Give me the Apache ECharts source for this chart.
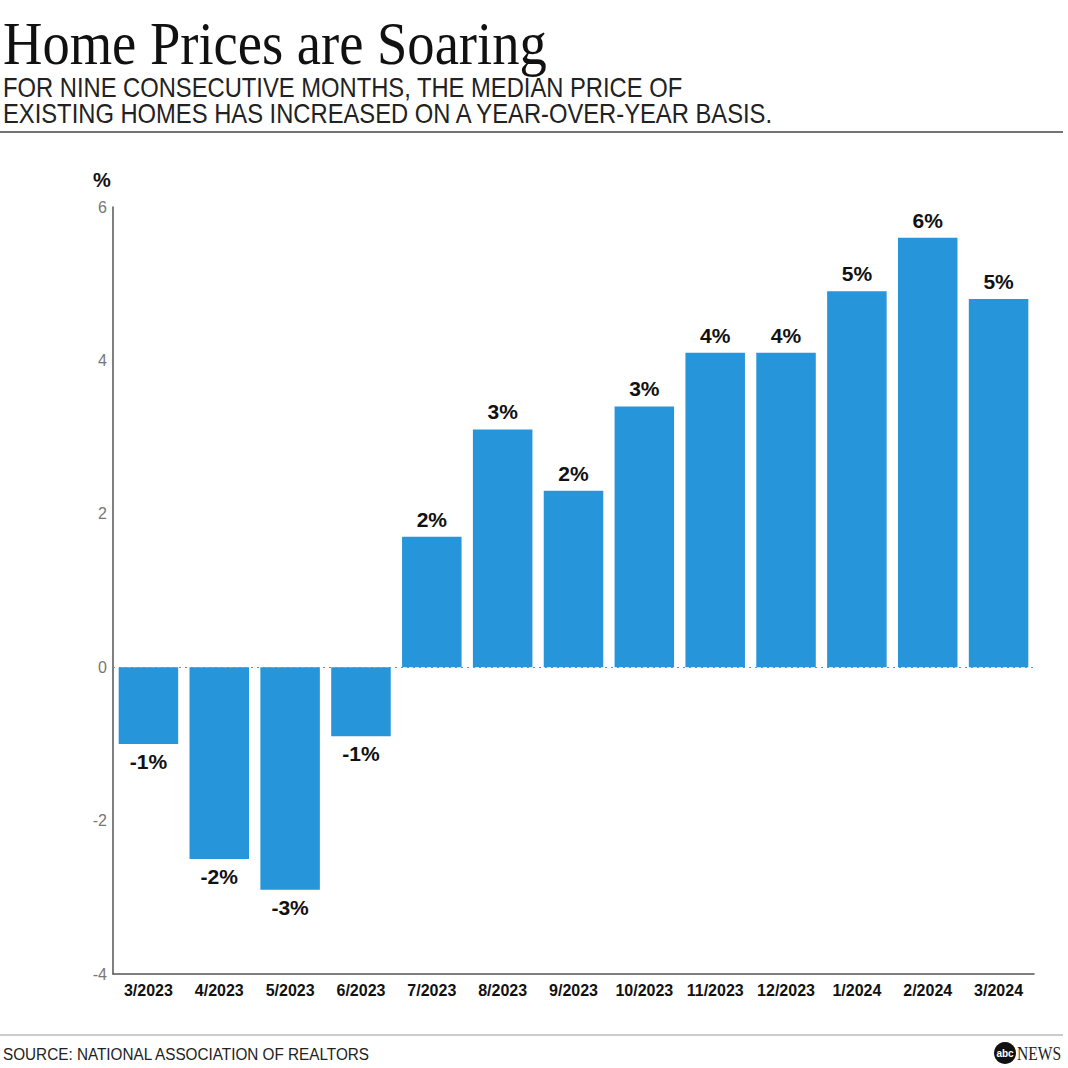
<!DOCTYPE html>
<html><head><meta charset="utf-8">
<script src="https://cdn.jsdelivr.net/npm/echarts@6/dist/echarts.min.js"></script>
<style>html,body{margin:0;padding:0;background:#fff}#c{width:1068px;height:1068px}</style>
</head><body><div id="c"></div>
<script>
const categories = ['3/2023','4/2023','5/2023','6/2023','7/2023','8/2023','9/2023','10/2023','11/2023','12/2023','1/2024','2/2024','3/2024'];
const values = [-1.0,-2.5,-2.9,-0.9,1.7,3.1,2.3,3.4,4.1,4.1,4.9,5.6,4.8];
const barLabels = ['-1%','-2%','-3%','-1%','2%','3%','2%','3%','4%','4%','5%','6%','5%'];
const yTicks = [-4,-2,0,2,4,6];
const titleText = 'Home Prices are Soaring';
const subtitleLines = ['FOR NINE CONSECUTIVE MONTHS, THE MEDIAN PRICE OF','EXISTING HOMES HAS INCREASED ON A YEAR-OVER-YEAR BASIS.'];
const sourceText = 'SOURCE: NATIONAL ASSOCIATION OF REALTORS';

const chart = echarts.init(document.getElementById('c'), null, {renderer:'svg'});
const sans = 'Liberation Sans, Arial, sans-serif';
chart.setOption({
  animation:false,
  backgroundColor:'#fff',
  grid:{left:113,right:34,top:207,bottom:94,containLabel:false},
  xAxis:{
    type:'category', data:categories,
    axisLine:{onZero:false,lineStyle:{color:'#555',width:1.5}},
    axisTick:{show:false},
    axisLabel:{interval:0,hideOverlap:false,color:'#111',fontFamily:sans,fontWeight:'bold',fontSize:16,margin:8}
  },
  yAxis:{
    type:'value', min:yTicks[0], max:yTicks[yTicks.length-1], interval:2,
    axisLine:{show:true,lineStyle:{color:'#555',width:1.5}},
    axisTick:{show:false},
    splitLine:{show:false},
    axisLabel:{color:'#777',fontFamily:sans,fontSize:16,margin:6}
  },
  series:[{
    type:'bar', data:values, barCategoryGap:'16%',
    itemStyle:{color:'#2795D9'},
    label:{show:true,position:'outside',distance:7,color:'#111',fontFamily:sans,fontWeight:'bold',fontSize:21,
      formatter:p=>barLabels[p.dataIndex]},
    markLine:{symbol:'none',silent:true,label:{show:false},
      lineStyle:{color:'#b9785a',type:[2,4],width:1},
      data:[{yAxis:0}]}
  }],
  graphic:[
    {type:'text',x:3,y:12,scaleX:0.88,style:{text:titleText,fontFamily:'Liberation Serif, Times New Roman, serif',fontSize:62,fill:'#111',verticalAlign:'top'}},
    {type:'text',x:3,y:74,scaleX:0.88,style:{text:subtitleLines.join('\n'),fontFamily:sans,fontSize:27,lineHeight:26,fill:'#222',verticalAlign:'top'}},
    {type:'line',shape:{x1:0,y1:132,x2:1063,y2:132},style:{stroke:'#444',lineWidth:1.5}},
    {type:'text',left:93,top:170,style:{text:'%',fontFamily:sans,fontWeight:'bold',fontSize:20,fill:'#111'}},
    {type:'line',shape:{x1:0,y1:1035,x2:1063,y2:1035},style:{stroke:'#999',lineWidth:1}},
    {type:'text',x:3,y:1045,scaleX:0.9,style:{text:sourceText,fontFamily:sans,fontSize:17,fill:'#222',verticalAlign:'top'}},
    {type:'circle',shape:{cx:1005,cy:1053,r:11},style:{fill:'#111'}},
    {type:'text',x:1005,y:1053,style:{text:'abc',fontFamily:sans,fontWeight:'bold',fontSize:10,fill:'#fff',align:'center',verticalAlign:'middle'}},
    {type:'text',x:1017,y:1044,scaleX:0.82,style:{text:'NEWS',fontFamily:'Liberation Serif, serif',fontSize:19,fill:'#222',verticalAlign:'top'}}
  ]
});
</script></body></html>
